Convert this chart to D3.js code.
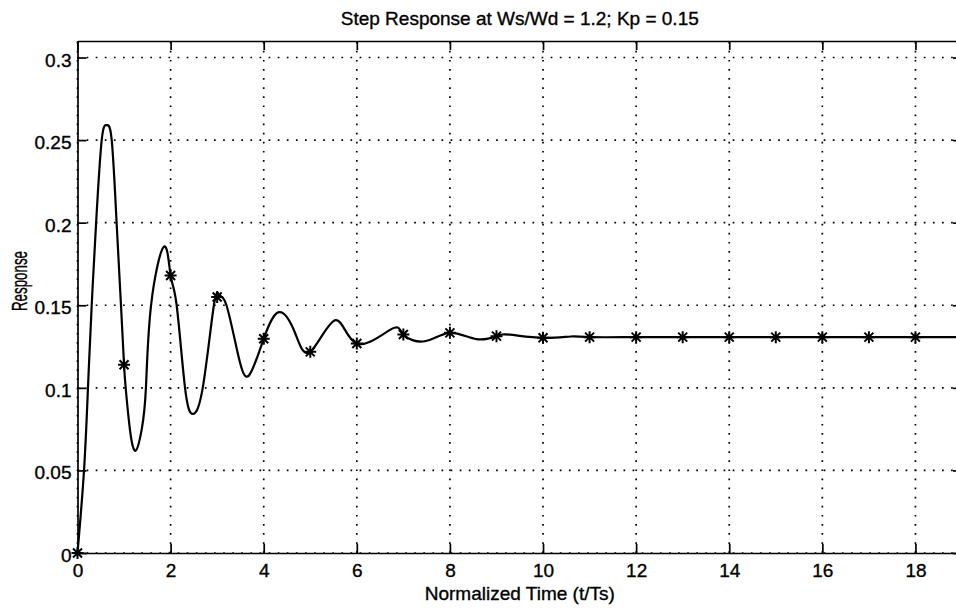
<html>
<head>
    <title>Step Response</title>
    <script src="https://d3js.org/d3.v7.min.js" charSet="utf-8"></script>
    <style>
        body { margin: 0; background: white; }
        text { font-family: "Liberation Sans", Arial, sans-serif; fill: black; stroke: black; stroke-width: 0.35; }
        .axis path, .axis line { fill: none; stroke: black; stroke-width: 1.7; }
        .axis text { font-size: 19px; }
        .grid line { stroke: black; stroke-width: 1.7; stroke-dasharray: 1.7 7.4; }
    </style>
</head>
<body>
<div id="vis_container"></div>
<script>
    // points (t in sample periods, response)
    let curve_t = [0, 0.14, 0.225, 0.305, 0.4, 0.52, 0.627, 0.735, 0.84, 0.934, 1.0, 1.035, 1.13, 1.25,
        1.38, 1.47, 1.58, 1.858, 2.0, 2.13, 2.31, 2.474, 2.69, 2.93, 3.05, 3.2, 3.45, 3.68,
        4.0, 4.33, 4.67, 5.0, 5.54, 6.0, 6.75, 7.0, 7.46, 8.0, 8.57, 9.0, 9.29,
        10.0, 10.6, 11, 12, 13, 14, 15, 16, 17, 18, 19];
    let curve_v = [0, 0.05, 0.1, 0.15, 0.2, 0.25, 0.259, 0.25, 0.2, 0.15, 0.114, 0.1, 0.074, 0.062,
        0.075, 0.1, 0.15, 0.1855, 0.168, 0.15, 0.1, 0.0842, 0.1, 0.15, 0.156, 0.15, 0.12, 0.1074,
        0.1297, 0.1458, 0.1335, 0.1218, 0.141, 0.1268, 0.1357, 0.1323, 0.1282, 0.1333, 0.1295, 0.1313, 0.1322,
        0.1303, 0.1311, 0.1307, 0.1307, 0.1307, 0.1307, 0.1307, 0.1307, 0.1307, 0.1307, 0.1307];

    // sampled points marked with asterisks
    let sample_t = [0, 1, 2, 3, 4, 5, 6, 7, 8, 9, 10, 11, 12, 13, 14, 15, 16, 17, 18];
    let sample_v = [0, 0.114, 0.168, 0.155, 0.1297, 0.1218, 0.1268, 0.1323, 0.1333, 0.1313,
        0.1303, 0.1307, 0.1307, 0.1307, 0.1307, 0.1307, 0.1307, 0.1307, 0.1307];

    let x_ticks = [0, 2, 4, 6, 8, 10, 12, 14, 16, 18];
    let y_ticks = [0, 0.05, 0.1, 0.15, 0.2, 0.25, 0.3];

    let width = 956, height = 610;
    let plot_left = 77.5, plot_right = 962, plot_top = 41, plot_bottom = 553;

    let svg = d3.select("#vis_container").append("svg")
        .attr("width", width)
        .attr("height", height);

    let x = d3.scaleLinear().domain([0, 19]).range([plot_left, plot_right]);
    let y = d3.scaleLinear().domain([0, 0.31]).range([plot_bottom, plot_top]);

    // dotted grid
    let grid = svg.append("g").attr("class", "grid");
    grid.selectAll(".vg").data(x_ticks).enter().append("line")
        .attr("x1", d => x(d)).attr("x2", d => x(d))
        .attr("y1", plot_bottom).attr("y2", plot_top);
    grid.selectAll(".hg").data(y_ticks).enter().append("line")
        .attr("x1", plot_left).attr("x2", plot_right)
        .attr("y1", d => y(d)).attr("y2", d => y(d));

    // axes, ticks pointing inwards
    svg.append("g")
        .attr("class", "axis")
        .attr("transform", "translate(0," + plot_bottom + ")")
        .call(d3.axisBottom(x).tickValues(x_ticks).tickSize(-9).tickSizeOuter(0).tickPadding(10.5).tickFormat(d3.format("d")));

    svg.append("g")
        .attr("class", "axis")
        .attr("transform", "translate(0," + plot_top + ")")
        .call(d3.axisTop(x).tickValues(x_ticks).tickSize(-9).tickSizeOuter(0).tickFormat(""));

    let yAxis = svg.append("g")
        .attr("class", "axis")
        .attr("transform", "translate(" + plot_left + ",0)")
        .call(d3.axisLeft(y).tickValues(y_ticks).tickSize(-9).tickSizeOuter(0).tickPadding(6).tickFormat(d => String(+d.toFixed(2))));
    yAxis.selectAll("text").attr("dy", "0.45em");

    svg.append("g")
        .attr("class", "axis")
        .attr("transform", "translate(" + plot_right + ",0)")
        .call(d3.axisRight(y).tickValues(y_ticks).tickSize(-9).tickSizeOuter(0).tickFormat(""));

    // response curve
    let pts = curve_t.map((t, i) => [t, curve_v[i]]);
    svg.append("path")
        .datum(pts)
        .attr("fill", "none")
        .attr("stroke", "black")
        .attr("stroke-width", 2.2)
        .attr("d", d3.line().x(d => x(d[0])).y(d => y(d[1])).curve(d3.curveNatural));

    // asterisk markers
    let r = 6, rd = r * 0.75;
    let star = "M" + (-r) + ",0H" + r + "M0," + (-r) + "V" + r +
        "M" + (-rd) + "," + (-rd) + "L" + rd + "," + rd +
        "M" + (-rd) + "," + rd + "L" + rd + "," + (-rd);
    svg.selectAll(".star")
        .data(sample_t.map((t, i) => [t, sample_v[i]]))
        .enter().append("path")
        .attr("class", "star")
        .attr("transform", d => "translate(" + x(d[0]) + "," + y(d[1]) + ")")
        .attr("d", star)
        .attr("fill", "none")
        .attr("stroke", "black")
        .attr("stroke-width", 2);

    // labels
    svg.append("text")
        .attr("x", (plot_left + plot_right) / 2)
        .attr("y", 25)
        .style("text-anchor", "middle")
        .style("font-size", "19px")
        .text("Step Response at Ws/Wd = 1.2; Kp = 0.15");

    svg.append("text")
        .attr("x", (plot_left + plot_right) / 2)
        .attr("y", 600)
        .style("text-anchor", "middle")
        .style("font-size", "19px")
        .text("Normalized Time (t/Ts)");

    svg.append("text")
        .attr("transform", "translate(27,281) rotate(-90)")
        .style("text-anchor", "middle")
        .style("font-size", "22px")
        .attr("textLength", 60)
        .attr("lengthAdjust", "spacingAndGlyphs")
        .text("Response");
</script>
</body>
</html>
